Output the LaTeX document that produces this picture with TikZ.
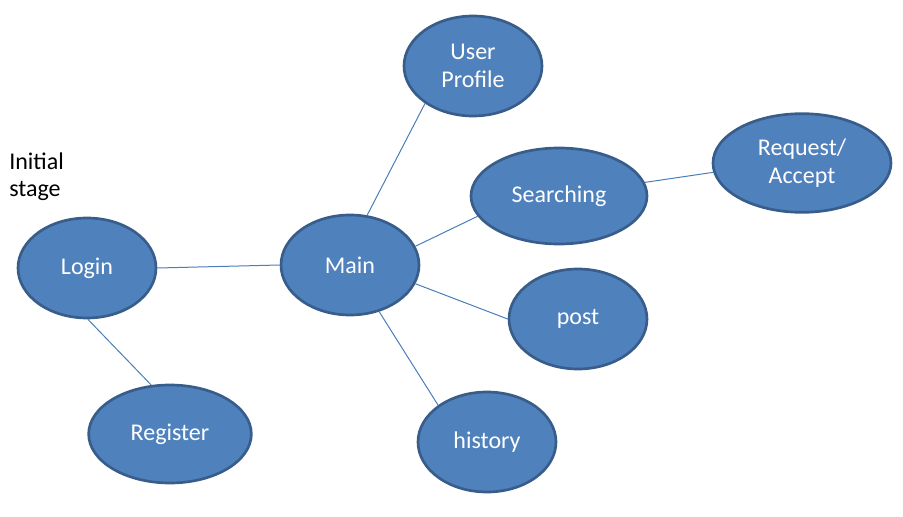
\documentclass[tikz,border=0pt]{standalone}
\usepackage{fontspec}
\setmainfont{Carlito}
\usepackage{tikz}
\usepackage{xcolor}
\usetikzlibrary{shapes.geometric}
\definecolor{bubblefill}{HTML}{4F81BD}
\definecolor{bubbleborder}{HTML}{385D8A}
\definecolor{linkblue}{HTML}{4A7EBB}

\begin{document}
\begin{tikzpicture}[x=0.75pt,y=-0.75pt,
 bubble/.style={ellipse,draw=bubbleborder,fill=bubblefill,line width=2pt,inner sep=0pt,
  minimum width=103.5pt,minimum height=75pt,text=white,align=center,
  font=\fontsize{18}{21}\selectfont},
 link/.style={draw=linkblue,line width=0.75pt}] % pixel grid, y downwards
 \useasboundingbox (0,0) rectangle (903,517);
 \node[anchor=north west,inner sep=0pt,align=left,font=\fontsize{18}{20.3}\selectfont] (stage) at (9,153) {Initial\\stage};
 % the bubbles
 \node[bubble] (login) at (87,268) {Login};
 \node[bubble,minimum width=122pt,minimum height=73.5pt] (register) at (170,434) {Register};
 \node[bubble] (main) at (350,265) {Main};
 \node[bubble] (profile) at (473,66) {User\\Profile};
 \node[bubble,minimum width=132pt,minimum height=72pt] (searching) at (559,196) {Searching};
 \node[bubble,minimum width=133.5pt,minimum height=74pt] (request) at (802,163) {Request/\\Accept};
 \node[bubble] (post) at (578,319) {post};
 \node[bubble] (history) at (487,442) {history};
 % the links
 \draw[link] (login.0) -- (main.180);
 \draw[link] (login.-89) -- (register.111);
 \draw[link] (main.71) -- (profile.218);
 \draw[link] (main.16) -- (searching.194);
 \draw[link] (searching.9) -- (request.186);
 \draw[link] (main.-16) -- (post.180);
 \draw[link] (main.-58) -- (history.143);
\end{tikzpicture}
\end{document}
